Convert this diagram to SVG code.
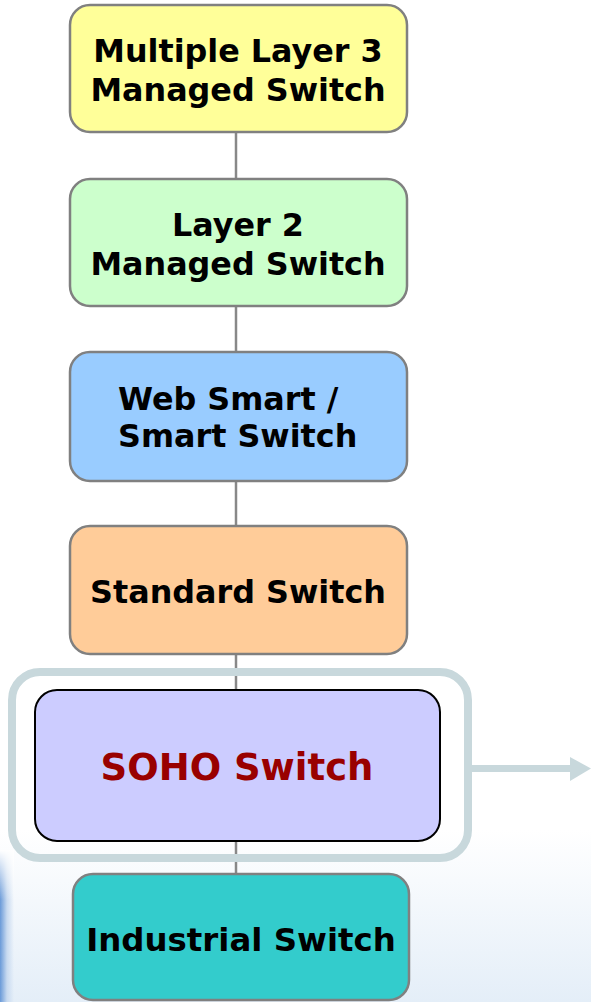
<svg xmlns="http://www.w3.org/2000/svg" width="591" height="1002" viewBox="0 0 591 1002">
<defs>
<style>
.box{stroke:#808080;stroke-width:2.5}
.lbl{font-family:"DejaVu Sans","Liberation Sans",sans-serif;font-weight:bold;font-size:31.8px;fill:#000;text-anchor:middle}
.conn{stroke:#888;stroke-width:2.5;fill:none}
</style>
<linearGradient id="bg" x1="0" y1="0" x2="0" y2="1">
<stop offset="0" stop-color="#ffffff"/>
<stop offset="1" stop-color="#e4eef8"/>
</linearGradient>
<linearGradient id="edge" x1="0" y1="0" x2="1" y2="0">
<stop offset="0" stop-color="#6a9ad8"/>
<stop offset="0.5" stop-color="#c8daf0"/>
<stop offset="1" stop-color="#c8daf0" stop-opacity="0"/>
</linearGradient>
<linearGradient id="edgev" x1="0" y1="0" x2="0" y2="1">
<stop offset="0" stop-color="#fff" stop-opacity="1"/>
<stop offset="1" stop-color="#fff" stop-opacity="0"/>
</linearGradient>
</defs>
<rect x="0" y="0" width="591" height="1002" fill="#fff"/>
<rect x="0" y="830" width="591" height="172" fill="url(#bg)"/>
<rect x="0" y="850" width="14" height="152" fill="url(#edge)"/>
<rect x="0" y="850" width="14" height="50" fill="url(#edgev)"/>
<g id="connectors">
<line class="conn" x1="236" y1="132" x2="236" y2="179"/>
<line class="conn" x1="236" y1="306" x2="236" y2="352"/>
<line class="conn" x1="236" y1="481" x2="236" y2="526"/>
<line class="conn" x1="236" y1="654" x2="236" y2="690"/>
<line class="conn" x1="236" y1="841" x2="236" y2="874"/>
</g>
<g id="n1">
<rect class="box" x="70" y="5" width="337" height="127" rx="20" fill="#ffff99"/>
<text class="lbl" x="238" y="62">Multiple Layer 3</text>
<text class="lbl" x="238" y="101">Managed Switch</text>
</g>
<g id="n2">
<rect class="box" x="70" y="179" width="337" height="127" rx="20" fill="#ccffcc"/>
<text class="lbl" x="238" y="236">Layer 2</text>
<text class="lbl" x="238" y="275">Managed Switch</text>
</g>
<g id="n3">
<rect class="box" x="70" y="352" width="337" height="129" rx="20" fill="#99ccff"/>
<text class="lbl" x="118" y="410" style="text-anchor:start">Web Smart /</text>
<text class="lbl" x="118" y="447" style="text-anchor:start">Smart Switch</text>
</g>
<g id="n4">
<rect class="box" x="70" y="526" width="337" height="128" rx="20" fill="#ffcc99"/>
<text class="lbl" x="238" y="603">Standard Switch</text>
</g>
<g id="halo">
<rect x="12" y="672" width="456" height="186" rx="28" fill="none" stroke="#c8d8dc" stroke-width="8"/>
<line x1="472" y1="768.5" x2="572" y2="768.5" stroke="#c8d8dc" stroke-width="7"/>
<polygon points="570,757 591,768.5 570,781" fill="#c8d8dc"/>
</g>
<g id="n5">
<rect x="35" y="690" width="405" height="151" rx="22" fill="#ccccff" stroke="#000" stroke-width="2"/>
<text class="lbl" x="237" y="780" style="fill:#990000;font-size:37px">SOHO Switch</text>
</g>
<g id="n6">
<rect class="box" x="73" y="874" width="336" height="126" rx="20" fill="#33cccc"/>
<text class="lbl" x="241" y="951" style="font-size:32.4px">Industrial Switch</text>
</g>
</svg>
